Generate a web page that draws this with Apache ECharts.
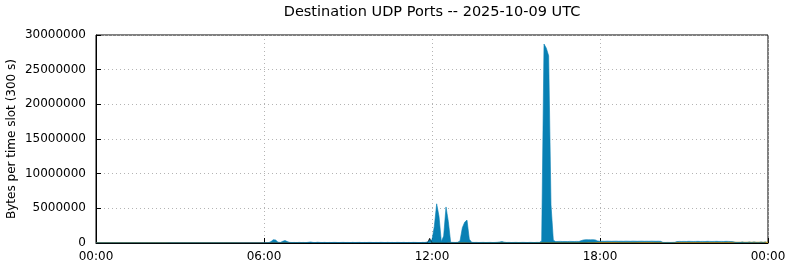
<!DOCTYPE html>
<html>
<head>
<meta charset="utf-8">
<script src="https://cdn.jsdelivr.net/npm/echarts@6/dist/echarts.min.js"></script>
<style>html,body{margin:0;padding:0;background:#fff}#c{width:790px;height:267px}</style>
</head>
<body>
<div id="c"></div>
<script>
// Time slots of 300 s over the day (index i -> i*300 s)
const slotSeconds = 300;
const xTicks = [0, 21600, 43200, 64800, 86400];
const yTicks = [0, 5000000, 10000000, 15000000, 20000000, 25000000, 30000000];

const blueValues = [
10000,8000,12000,9000,11000,10000,7000,9000,12000,10000,8000,11000,
9000,10000,12000,8000,10000,11000,9000,10000,13000,9000,10000,8000,
11000,10000,9000,12000,10000,8000,9000,11000,10000,12000,9000,10000,
8000,11000,10000,9000,12000,10000,11000,9000,8000,10000,12000,9000,
10000,11000,9000,10000,8000,12000,10000,9000,11000,10000,9000,12000,
10000,8000,11000,9000,10000,12000,9000,10000,11000,8000,10000,9000,
20000,40000,50000,200000,480000,430000,120000,80000,240000,360000,200000,90000,
70000,80000,60000,90000,70000,80000,60000,100000,150000,80000,70000,110000,
80000,70000,90000,60000,80000,70000,90000,80000,60000,80000,90000,70000,
80000,60000,90000,70000,80000,90000,60000,80000,70000,90000,80000,60000,
80000,70000,90000,80000,60000,90000,70000,80000,60000,90000,80000,70000,
90000,60000,80000,70000,90000,80000,70000,60000,90000,80000,150000,400000,
420000,2400000,5650000,3850000,200000,1000000,5200000,3100000,100000,90000,80000,100000,
300000,2200000,3000000,3300000,550000,100000,80000,90000,70000,80000,90000,70000,
80000,90000,70000,80000,100000,150000,200000,120000,80000,90000,70000,80000,
90000,70000,80000,90000,80000,70000,90000,80000,70000,90000,80000,300000,
28700000,28100000,27000000,5500000,400000,200000,220000,230000,210000,220000,200000,230000,
220000,210000,230000,220000,350000,450000,480000,470000,460000,480000,450000,300000,
250000,260000,250000,270000,260000,250000,260000,270000,250000,260000,250000,270000,
260000,250000,270000,260000,250000,260000,270000,250000,260000,250000,270000,260000,
250000,260000,240000,90000,80000,90000,80000,90000,100000,200000,230000,220000,
230000,220000,240000,230000,220000,230000,240000,220000,230000,220000,240000,230000,
220000,230000,240000,220000,230000,220000,240000,230000,210000,190000,90000,60000,
50000,150000,40000,60000,140000,50000,160000,60000,40000,150000,50000,180000
];

const greenValues = [
40000,42000,38000,41000,39000,40000,43000,37000,40000,41000,39000,40000,
42000,38000,40000,41000,39000,40000,38000,42000,40000,39000,41000,40000,
38000,40000,42000,39000,41000,40000,38000,40000,41000,39000,40000,42000,
40000,38000,41000,40000,39000,42000,40000,38000,41000,40000,39000,40000,
41000,40000,38000,42000,40000,39000,41000,40000,38000,40000,42000,39000,
40000,41000,39000,40000,38000,42000,40000,39000,41000,40000,38000,40000,
10000,10000,10000,20000,40000,40000,15000,10000,20000,30000,20000,10000,
10000,10000,10000,10000,10000,10000,10000,10000,80000,20000,10000,15000,
10000,10000,10000,10000,10000,10000,10000,10000,10000,10000,10000,10000,
10000,10000,10000,10000,10000,10000,10000,10000,10000,10000,10000,10000,
10000,10000,10000,10000,10000,10000,10000,10000,10000,10000,10000,10000,
10000,10000,10000,10000,10000,10000,10000,10000,10000,10000,10000,20000,
20000,50000,80000,70000,10000,30000,80000,60000,10000,10000,10000,10000,
10000,40000,60000,60000,20000,10000,10000,10000,10000,10000,10000,10000,
10000,10000,10000,10000,10000,15000,20000,10000,10000,10000,10000,10000,
10000,10000,10000,10000,10000,10000,10000,10000,10000,10000,10000,20000,
90000,100000,90000,60000,20000,20000,20000,20000,20000,20000,20000,20000,
20000,20000,20000,20000,30000,40000,40000,40000,40000,40000,40000,30000,
60000,60000,60000,60000,60000,60000,60000,60000,60000,60000,60000,60000,
60000,60000,60000,60000,60000,60000,60000,60000,60000,60000,60000,60000,
60000,60000,50000,20000,20000,20000,20000,20000,20000,20000,20000,20000,
20000,20000,20000,20000,20000,20000,20000,20000,20000,20000,20000,20000,
20000,20000,20000,20000,20000,20000,20000,20000,20000,20000,20000,20000,
20000,30000,20000,20000,30000,20000,30000,20000,20000,30000,20000,30000
];

const orangeValues = [
80000,85000,78000,82000,80000,77000,83000,80000,79000,81000,84000,80000,
78000,82000,80000,81000,79000,83000,80000,78000,82000,80000,81000,79000,
80000,83000,78000,80000,82000,79000,81000,80000,78000,82000,80000,81000,
79000,80000,83000,78000,80000,82000,79000,81000,80000,78000,82000,80000,
81000,79000,80000,83000,78000,80000,82000,79000,81000,80000,78000,82000,
80000,81000,79000,80000,83000,78000,80000,82000,79000,81000,80000,78000,
15000,15000,15000,20000,40000,40000,15000,15000,20000,30000,20000,15000,
15000,15000,15000,15000,15000,15000,15000,15000,100000,20000,15000,15000,
15000,15000,15000,15000,15000,15000,15000,15000,15000,15000,15000,15000,
15000,15000,15000,15000,15000,15000,15000,15000,15000,15000,15000,15000,
15000,15000,15000,15000,15000,15000,15000,15000,15000,15000,15000,15000,
15000,15000,15000,15000,15000,15000,15000,15000,15000,15000,15000,20000,
20000,60000,100000,80000,15000,30000,100000,70000,15000,15000,15000,15000,
15000,50000,70000,70000,20000,15000,15000,15000,15000,15000,15000,15000,
15000,15000,15000,15000,15000,20000,30000,15000,15000,15000,15000,15000,
15000,15000,15000,15000,15000,15000,15000,15000,15000,15000,15000,20000,
120000,150000,140000,80000,30000,40000,40000,40000,40000,40000,40000,40000,
40000,40000,40000,40000,50000,60000,60000,60000,60000,60000,60000,50000,
130000,130000,130000,130000,130000,130000,130000,130000,130000,130000,130000,130000,
130000,130000,130000,130000,130000,130000,130000,130000,130000,130000,130000,130000,
130000,130000,110000,20000,20000,20000,20000,20000,20000,10000,10000,10000,
10000,10000,10000,10000,10000,10000,10000,10000,10000,10000,10000,10000,
10000,10000,10000,10000,10000,10000,10000,10000,10000,10000,10000,10000,
20000,30000,20000,20000,30000,20000,30000,20000,20000,30000,20000,30000
];

// a single dark spike just before noon
const darkSpikeSlot = 143;
const darkSpikeValue = 700000;

const toPairs = arr => arr.map((v, i) => [i * slotSeconds, v]);
const darkValues = blueValues.map((_, i) => i === darkSpikeSlot ? darkSpikeValue : 0);

const fmtTime = v => {
  const s = v % 86400;
  const h = Math.floor(s / 3600), m = Math.floor((s % 3600) / 60);
  return String(h).padStart(2, '0') + ':' + String(m).padStart(2, '0');
};

const font = 'DejaVu Sans';
const chart = echarts.init(document.getElementById('c'), null, {renderer: 'canvas'});
const areaSeries = (name, data, color, stack, lw) => ({
  name, type: 'line', data: toPairs(data), stack, showSymbol: false, symbol: 'none',
  lineStyle: {width: lw, color}, itemStyle: {color},
  areaStyle: {color, opacity: 1}, silent: true
});
chart.setOption({
  animation: false,
  backgroundColor: '#fff',
  title: {
    text: 'Destination UDP Ports -- 2025-10-09 UTC',
    left: 427, top: 0, textAlign: 'center',
    textStyle: {fontFamily: font, fontSize: 14.5, fontWeight: 'normal', color: '#000'}
  },
  grid: {left: 96, right: 22, top: 35, bottom: 24, show: true, borderColor: '#000', borderWidth: 1,
         backgroundColor: 'transparent', containLabel: false, outerBoundsMode: 'none'},
  xAxis: {
    type: 'value', min: xTicks[0], max: xTicks[xTicks.length - 1], interval: 21600,
    axisLine: {show: true, lineStyle: {color: '#000', width: 1}},
    axisTick: {show: true, inside: true, length: 5, lineStyle: {color: '#000'}},
    axisLabel: {formatter: fmtTime, fontFamily: font, fontSize: 12, color: '#000', margin: 8},
    splitLine: {show: true, lineStyle: {color: '#b4b4b4', type: [1, 3], width: 1}}
  },
  yAxis: {
    type: 'value', min: yTicks[0], max: yTicks[yTicks.length - 1], interval: 5000000,
    name: 'Bytes per time slot (300 s)', nameLocation: 'middle', nameGap: 78, nameMoveOverlap: false,
    nameTextStyle: {fontFamily: font, fontSize: 12, color: '#000'},
    axisLine: {show: true, lineStyle: {color: '#000', width: 1}},
    axisTick: {show: true, inside: true, length: 5, lineStyle: {color: '#000'}},
    axisLabel: {formatter: v => String(v), fontFamily: font, fontSize: 12, color: '#000', margin: 10},
    splitLine: {show: true, lineStyle: {color: '#b4b4b4', type: [1, 3], width: 1}}
  },
  series: [
    {name: 'dark', type: 'line', data: toPairs(darkValues), showSymbol: false, symbol: 'none',
     lineStyle: {width: 0.6, color: '#111'}, areaStyle: {color: '#111', opacity: 1}, silent: true},
    areaSeries('blue', blueValues, '#0880b4', 'a', 0.6),
    areaSeries('green', greenValues, '#4f9a4a', 'a', 0),
    areaSeries('orange', orangeValues, '#b79a2c', 'a', 0)
  ]
});
</script>
</body>
</html>
